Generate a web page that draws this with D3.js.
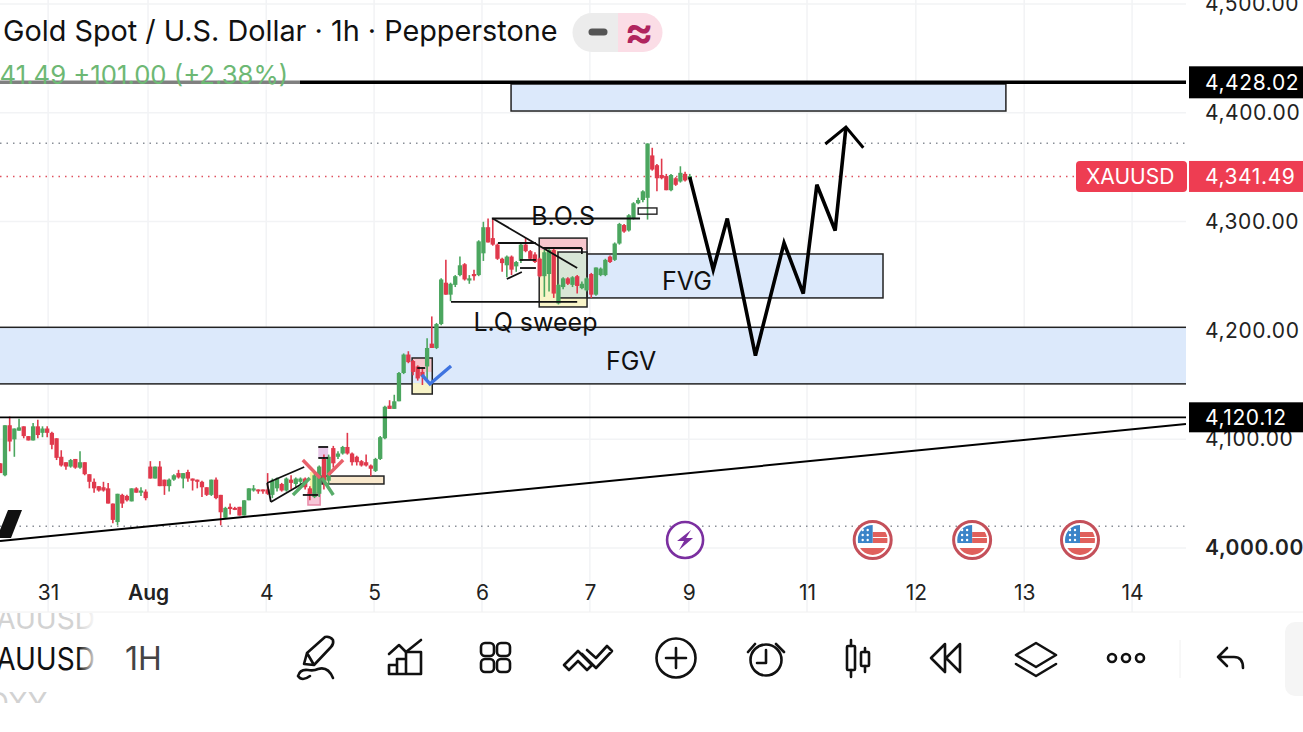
<!DOCTYPE html>
<html>
<head>
<meta charset="utf-8">
<script src="https://cdn.jsdelivr.net/npm/d3@7"></script>
<style>
  html, body { margin: 0; background: #fff; overflow: hidden; }
  text { font-family: Inter, "Liberation Sans", sans-serif; }
</style>
</head>
<body>
<div id="graph"></div>
<script>
/* globals d3 */
// hourly candles: open, high, low, close
const candles = [
  [4076,4076,4067,4067],[4065,4111,4064,4111],[4111,4119,4087,4096],[4098,4108,4082,4108],
  [4106,4117,4106,4109],[4110,4110,4099,4101],[4101,4101,4097,4097],[4097,4113,4097,4110],
  [4110,4116,4099,4102],[4104,4110,4100,4108],[4108,4110,4100,4104],[4104,4105,4089,4093],
  [4099,4099,4079,4081],[4082,4088,4073,4074],[4077,4077,4070,4073],[4073,4080,4072,4079],
  [4080,4080,4071,4072],[4072,4087,4071,4077],[4077,4077,4065,4066],[4066,4066,4053,4059],
  [4059,4062,4049,4053],[4055,4055,4050,4051],[4054,4059,4050,4051],[4053,4058,4039,4039],
  [4039,4039,4021,4024],[4022,4048,4019,4048],[4047,4048,4035,4039],[4046,4047,4041,4042],
  [4041,4053,4041,4053],[4053,4054,4049,4049],[4049,4054,4046,4051],[4050,4052,4042,4044],
  [4073,4078,4062,4062],[4062,4073,4062,4073],[4073,4078,4055,4055],[4061,4061,4047,4055],
  [4055,4062,4050,4061],[4061,4066,4060,4065],[4067,4070,4062,4063],[4062,4067,4053,4067],
  [4068,4070,4059,4062],[4062,4062,4051,4060],[4061,4061,4053,4059],[4059,4060,4045,4054],
  [4054,4054,4046,4047],[4047,4061,4046,4061],[4061,4063,4043,4044],[4047,4047,4019,4031],
  [4026,4036,4025,4035],[4036,4039,4029,4034],[4035,4036,4033,4034],[4036,4036,4028,4028],
  [4028,4042,4028,4042],[4042,4053,4042,4053],[4051,4056,4050,4053],[4052,4052,4048,4051],
  [4052,4052,4048,4051],[4052,4067,4047,4048],[4047,4062,4044,4060],[4053,4063,4050,4062],
  [4057,4058,4050,4051],[4051,4063,4050,4062],[4061,4065,4052,4058],[4057,4063,4053,4062],
  [4059,4063,4056,4062],[4062,4063,4052,4054],[4053,4055,4042,4048],[4045,4067,4044,4065],
  [4048,4074,4045,4073],[4080,4084,4052,4060],[4060,4084,4056,4082],[4090,4092,4072,4076],
  [4082,4087,4080,4085],[4085,4092,4084,4091],[4091,4104,4084,4085],[4085,4086,4074,4077],
  [4082,4083,4074,4077],[4078,4079,4073,4074],[4077,4084,4073,4074],[4074,4075,4064,4071],
  [4069,4081,4068,4080],[4080,4101,4079,4100],[4099,4129,4098,4128],[4129,4134,4126,4126],
  [4126,4139,4126,4133],[4133,4160,4133,4159],[4159,4177,4158,4176],[4176,4179,4168,4169],
  [4170,4171,4157,4160],[4165,4166,4152,4154],[4160,4164,4148,4156],[4165,4191,4152,4182],
  [4186,4211,4182,4182],[4182,4205,4181,4204],[4204,4246,4203,4245],[4242,4263,4231,4231],
  [4231,4242,4225,4241],[4240,4249,4238,4248],[4249,4266,4248,4258],[4259,4260,4244,4245],
  [4244,4249,4241,4246],[4250,4254,4244,4248],[4249,4281,4248,4280],[4269,4298,4262,4293],
  [4293,4301,4279,4279],[4283,4301,4276,4277],[4277,4278,4263,4264],[4264,4265,4252,4260],
  [4258,4267,4247,4266],[4266,4267,4249,4254],[4257,4262,4252,4261],[4262,4278,4260,4277],
  [4277,4283,4270,4271],[4271,4272,4263,4264],[4268,4270,4260,4261],[4264,4265,4247,4248],
  [4248,4272,4229,4270],[4250,4274,4234,4272],[4272,4274,4228,4232],[4223,4241,4222,4240],
  [4238,4247,4236,4246],[4246,4247,4240,4241],[4240,4248,4238,4247],[4248,4249,4232,4239],
  [4237,4243,4236,4241],[4235,4247,4234,4246],[4250,4251,4228,4231],[4231,4256,4230,4256],
  [4249,4256,4248,4255],[4249,4264,4248,4263],[4266,4267,4260,4261],[4263,4279,4262,4278],
  [4278,4297,4277,4296],[4295,4296,4288,4289],[4290,4305,4289,4304],[4301,4316,4300,4315],
  [4315,4320,4314,4318],[4318,4327,4316,4326],[4320,4370,4300,4370],[4359,4366,4345,4346],
  [4350,4351,4326,4338],[4341,4356,4337,4338],[4340,4342,4327,4327],[4327,4342,4326,4341],
  [4338,4339,4331,4332],[4335,4349,4334,4343],[4342,4344,4335,4336],[4337,4342,4336,4340]
];

const priceTicks = [4000, 4100, 4200, 4300, 4400, 4500];
const dayTicks = [10.2, 31.5, 56.7, 79.7, 102.7, 125.7, 146.8, 172, 195.2, 218.3, 241.3];
const dayLabels = ['31', 'Aug', '4', '5', '6', '7', '9', '11', '12', '13', '14'];

const topLevel = 4428.02;
const lowLevel = 4120.12;
const lastPrice = 4341.49;
const swingHigh = 4372;
const swingLow = 4020;

// candles and drawings were read against the label centres, the grid sits this much lower
const readShift = 1.84;

// drawing tools: candle index and price
const trendLine = [[-0.06, 4004.6], [252.8, 4112.1]];
const forecast = [[147, 4339], [152, 4254], [155, 4301], [161, 4175], [167.1, 4278.5],
  [171.2, 4232], [174.1, 4332], [178, 4290], [180.3, 4385]];
const forecastHead = [[175.9, 4369.5], [180.3, 4385], [184, 4366]];
const blueArrow = [[89.9, 4157.2], [91.6, 4148.9], [96.1, 4165.4]];

// i0, i1, p0, p1, fill, stroke
const zonesBelow = [
  [-5, 260, 4201, 4149, '#dce9fb', '#222'],
  [108.9, 214.4, 4424.6, 4399.8, '#dce9fb', '#222'],
  [118.7, 188.2, 4268.4, 4228, '#dce9fb', '#222'],
  [114.9, 125.1, 4283, 4272, '#f7c6cd', 'none'],
  [114.9, 118.9, 4272, 4219.7, '#f8f4c8', 'none'],
  [118.9, 125.1, 4228, 4219.7, '#f8f4c8', 'none'],
  [118.9, 125.1, 4270.2, 4228, '#d8e6d6', '#222'],
  [114.9, 125.1, 4283, 4219.7, 'none', '#222'],
  [87.8, 92.1, 4172.8, 4160, '#f7c6cd', 'none'],
  [87.8, 92.1, 4149.8, 4139.7, '#f8f4c8', 'none'],
  [87.8, 92.1, 4172.8, 4139.7, 'none', '#222'],
  [66, 68.2, 4068, 4048.7, '#f8f4a8', 'none'],
  [65.6, 68.2, 4048.7, 4037.7, '#f7c6d8', '#e88aa8'],
  [67.8, 69.9, 4091, 4080.9, '#e8c8e8', 'none'],
  [68.6, 81.8, 4064.3, 4057, '#f9e8cc', '#222']
];
const smallBox = [136, 140, 4310.7, 4305];

// i0, p0, i1, p1
const thinLines = [
  [104.8, 4301, 136.4, 4301], [105, 4301, 123, 4255.5], [106.1, 4278.5, 114.2, 4278.5],
  [110.8, 4262.9, 114.2, 4262.9], [110.8, 4255.5, 114.2, 4255.5], [108, 4245.4, 111.2, 4251.8],
  [96.1, 4224.3, 123, 4224.3], [115.7, 4273.9, 124, 4273.9], [124, 4273.9, 124, 4268.4],
  [56.9, 4057.9, 64.8, 4072.6], [57.7, 4040.4, 65, 4058.8], [56.9, 4057.9, 57.7, 4040.4],
  [64.5, 4046.9, 67.8, 4046.9], [67.8, 4091, 69.9, 4091], [67.8, 4080.9, 69.9, 4080.9],
  [88.9, 4163.6, 90.6, 4163.6]
];
const redCross = [[64.5, 4079, 68.2, 4062.5], [69.9, 4065.3, 73.1, 4079]];
const greenCross = [[62.4, 4046.9, 66, 4062.5], [68.6, 4062.5, 71, 4046.9]];

const notes = [
  ['B.O.S', 120, 4295],
  ['L.Q sweep', 114.1, 4198],
  ['FVG', 146.4, 4235],
  ['FGV', 134.5, 4162]
];
const lightningAt = 146;
const flagsAt = [186, 207.2, 230.2];
const eventPrice = 4005.5;

const width = 1303, height = 732, plotRight = 1186, plotBottom = 612;
const green = '#4ba65f', red = '#e0394c';

const x = d3.scaleLinear().domain([-0.06, 252.8]).range([0, plotRight]);
const y = d3.scaleLinear().domain([4000, 4500]).range([548, 4]);
const yr = v => y(v + readShift);

const svg = d3.select('#graph').append('svg')
  .attr('width', width).attr('height', height)
  .style('display', 'block');

const defs = svg.append('defs');
defs.append('clipPath').attr('id', 'plot').append('rect')
  .attr('width', plotRight).attr('height', plotBottom);
const fade = defs.append('linearGradient').attr('id', 'fade');
fade.append('stop').attr('offset', '0').attr('stop-color', '#fff').attr('stop-opacity', 0);
fade.append('stop').attr('offset', '1').attr('stop-color', '#fff').attr('stop-opacity', 1);

const plot = svg.append('g').attr('clip-path', 'url(#plot)');

// Grid
plot.selectAll('.gx').data(dayTicks).enter().append('line')
  .attr('x1', d => x(d)).attr('x2', d => x(d))
  .attr('y1', 0).attr('y2', plotBottom)
  .attr('stroke', '#f2f3f5').attr('stroke-width', 1.5);
plot.selectAll('.gy').data(priceTicks).enter().append('line')
  .attr('x1', 0).attr('x2', plotRight)
  .attr('y1', d => y(d)).attr('y2', d => y(d))
  .attr('stroke', '#f2f3f5').attr('stroke-width', 1.5);

// Zones go under the candles
plot.selectAll('.zone').data(zonesBelow).enter().append('rect')
  .attr('x', d => x(d[0])).attr('width', d => x(d[1]) - x(d[0]))
  .attr('y', d => yr(d[2])).attr('height', d => yr(d[3]) - yr(d[2]))
  .attr('fill', d => d[4]).attr('stroke', d => d[5]).attr('stroke-width', 1.5);

// Dotted levels
[[swingHigh, '#8a8f98'], [swingLow, '#8a8f98'], [lastPrice, '#e0525f']].forEach(([p, c]) => {
  plot.append('line')
    .attr('x1', 0).attr('x2', plotRight).attr('y1', y(p)).attr('y2', y(p))
    .attr('stroke', c).attr('stroke-width', 1.4).attr('stroke-dasharray', '1.5 5');
});

// Candles
const candle = plot.selectAll('.candle').data(candles).enter().append('g')
  .attr('fill', d => d[3] < d[0] ? red : green)
  .attr('stroke', d => d[3] < d[0] ? red : green);
candle.append('line')
  .attr('x1', (d, i) => x(i)).attr('x2', (d, i) => x(i))
  .attr('y1', d => yr(d[1])).attr('y2', d => yr(d[2]))
  .attr('stroke-width', 1.6);
candle.append('rect')
  .attr('x', (d, i) => x(i) - 2.15).attr('width', 4.3)
  .attr('y', d => yr(Math.max(d[0], d[3])))
  .attr('height', d => Math.max(2, Math.abs(yr(d[0]) - yr(d[3]))))
  .attr('stroke', 'none');

// Horizontal levels and trend line
plot.append('line').attr('x1', 0).attr('x2', plotRight)
  .attr('y1', y(topLevel)).attr('y2', y(topLevel))
  .attr('stroke', '#000').attr('stroke-width', 3.4);
plot.append('line').attr('x1', 0).attr('x2', plotRight)
  .attr('y1', y(lowLevel)).attr('y2', y(lowLevel))
  .attr('stroke', '#000').attr('stroke-width', 1.8);
plot.append('line')
  .attr('x1', x(trendLine[0][0])).attr('y1', yr(trendLine[0][1]))
  .attr('x2', x(trendLine[1][0])).attr('y2', yr(trendLine[1][1]))
  .attr('stroke', '#000').attr('stroke-width', 2);

const segs = (data, colour, w) => plot.selectAll(null).data(data).enter().append('line')
  .attr('x1', d => x(d[0])).attr('y1', d => yr(d[1]))
  .attr('x2', d => x(d[2])).attr('y2', d => yr(d[3]))
  .attr('stroke', colour).attr('stroke-width', w);
segs(thinLines, '#111', 1.8);
segs(redCross, '#e8606a', 3.4);
segs(greenCross, '#58ad6a', 3.4);

plot.append('rect')
  .attr('x', x(smallBox[0])).attr('width', x(smallBox[1]) - x(smallBox[0]))
  .attr('y', yr(smallBox[2])).attr('height', yr(smallBox[3]) - yr(smallBox[2]))
  .attr('fill', 'none').attr('stroke', '#222').attr('stroke-width', 1.4);

const pathLine = d3.line().x(d => x(d[0])).y(d => yr(d[1]));
plot.append('path').attr('d', pathLine(forecast))
  .attr('fill', 'none').attr('stroke', '#000').attr('stroke-width', 3.6);
plot.append('path').attr('d', pathLine(forecastHead))
  .attr('fill', 'none').attr('stroke', '#000').attr('stroke-width', 3);
plot.append('path').attr('d', pathLine(blueArrow))
  .attr('fill', 'none').attr('stroke', '#3f74e0').attr('stroke-width', 3.4);

plot.selectAll('.note').data(notes).enter().append('text')
  .attr('x', d => x(d[1])).attr('y', d => yr(d[2]))
  .attr('text-anchor', 'middle')
  .attr('font-size', 25).attr('fill', '#111')
  .text(d => d[0]);

// Watermark corner
plot.append('path').attr('d', 'M8,510 L22,510 L11,538 L0,538 L0,530 Z').attr('fill', '#111');

// Event markers
plot.append('circle')
  .attr('cx', x(lightningAt)).attr('cy', yr(eventPrice)).attr('r', 18)
  .attr('fill', '#fff').attr('stroke', '#7b2fa0').attr('stroke-width', 2.6);
plot.append('path')
  .attr('transform', `translate(${x(lightningAt)},${yr(eventPrice)})`)
  .attr('d', 'M6,-10 L-8,1 L-1,1 L-6,10 L8,-2 L1,-2 Z').attr('fill', '#7b2fa0');

flagsAt.forEach((f, n) => {
  const g = plot.append('g').attr('transform', `translate(${x(f)},${yr(eventPrice)})`);
  defs.append('clipPath').attr('id', `flag${n}`).append('circle').attr('r', 15);
  g.append('circle').attr('r', 18.5).attr('fill', '#fff')
    .attr('stroke', '#c4505a').attr('stroke-width', 3);
  const inner = g.append('g').attr('clip-path', `url(#flag${n})`);
  inner.append('rect').attr('x', -15).attr('y', -15).attr('width', 30).attr('height', 30).attr('fill', '#fff');
  inner.append('rect').attr('x', 0).attr('y', -8).attr('width', 15).attr('height', 5).attr('fill', '#e0605c');
  inner.append('rect').attr('x', 0).attr('y', -2).attr('width', 15).attr('height', 5).attr('fill', '#e0605c');
  inner.append('rect').attr('x', -15).attr('y', 8).attr('width', 30).attr('height', 7).attr('fill', '#e0605c');
  inner.append('rect').attr('x', -15).attr('y', -15).attr('width', 15).attr('height', 18).attr('fill', '#3b84c8');
  [-10, -5].forEach(sx => [-10, -5, 0].forEach(sy => {
    inner.append('circle').attr('cx', sx).attr('cy', sy).attr('r', 1.2).attr('fill', '#fff');
  }));
});

// Axes
const yAxis = svg.append('g').attr('transform', `translate(${plotRight},0)`)
  .call(d3.axisRight(y).tickValues(priceTicks).tickSize(0).tickPadding(19)
    .tickFormat(d => d3.format(',.2f')(d)));
yAxis.select('.domain').remove();
yAxis.selectAll('text')
  .attr('font-size', 21).attr('fill', '#222').attr('letter-spacing', 0.6)
  .style('font-family', 'Inter')
  .attr('font-weight', d => d === 4000 ? 600 : 400);

const xAxis = svg.append('g').attr('transform', 'translate(0,581)')
  .call(d3.axisBottom(x).tickValues(dayTicks).tickSize(0).tickPadding(4)
    .tickFormat((d, i) => dayLabels[i]));
xAxis.select('.domain').remove();
xAxis.selectAll('text')
  .attr('font-size', 21).attr('fill', '#222')
  .style('font-family', 'Inter')
  .attr('font-weight', (d, i) => dayLabels[i] === 'Aug' ? 600 : 400);

// Price tags
const tag = (p, h, fill) => {
  svg.append('rect').attr('x', 1189).attr('y', y(p) - h / 2)
    .attr('width', 114).attr('height', h).attr('fill', fill);
  svg.append('text').attr('x', 1205).attr('y', y(p) + 8)
    .attr('font-size', 21).attr('letter-spacing', 0.6).attr('fill', '#fff')
    .text(d3.format(',.2f')(p));
};
tag(topLevel, 32, '#000');
tag(lowLevel, 30, '#000');
tag(lastPrice, 31, '#ee3d52');
svg.append('rect').attr('x', 1076).attr('y', y(lastPrice) - 15.5)
  .attr('width', 111).attr('height', 31).attr('rx', 4).attr('fill', '#ee3d52');
svg.append('text').attr('x', 1086).attr('y', y(lastPrice) + 8)
  .attr('font-size', 21).attr('fill', '#fff').text('XAUUSD');

// Legend header
svg.append('rect').attr('x', 0).attr('y', 62).attr('width', 300).attr('height', 28)
  .attr('fill', '#fff').attr('opacity', 0.5);
svg.append('text').attr('x', 3).attr('y', 41)
  .attr('font-size', 28.8).attr('fill', '#111')
  .text('Gold Spot / U.S. Dollar · 1h · Pepperstone');
svg.append('text').attr('x', 288).attr('y', 84).attr('text-anchor', 'end')
  .attr('font-size', 25.7).attr('fill', '#6db874')
  .text('4,341.49 +101.00 (+2.38%)');
svg.append('path').attr('d', 'M618,13 H592 a19.5,19.5 0 0 0 0,39 H618 Z').attr('fill', '#ececec');
svg.append('path').attr('d', 'M618,13 H643 a19.5,19.5 0 0 1 0,39 H618 Z').attr('fill', '#fbdde6');
svg.append('line').attr('x1', 592).attr('x2', 604).attr('y1', 32).attr('y2', 32)
  .attr('stroke', '#555').attr('stroke-width', 7).attr('stroke-linecap', 'round');
svg.append('text').attr('x', 639).attr('y', 47).attr('text-anchor', 'middle')
  .attr('font-size', 44).attr('font-weight', 600).attr('fill', '#b0245e').text('≈');

// Toolbar
svg.append('line').attr('x1', 0).attr('x2', width).attr('y1', 612).attr('y2', 612)
  .attr('stroke', '#f0f0f0');
const bar = svg.append('g');
defs.append('clipPath').attr('id', 'rows').append('rect')
  .attr('y', 613).attr('width', 100).attr('height', 90);
const rows = bar.append('g').attr('clip-path', 'url(#rows)');
rows.append('text').attr('x', -23).attr('y', 629).attr('font-size', 29).attr('fill', '#d2d2d2')
  .attr('textLength', 118).attr('lengthAdjust', 'spacingAndGlyphs').text('XAUUSD');
rows.append('text').attr('x', -23).attr('y', 670).attr('font-size', 31).attr('fill', '#111')
  .attr('textLength', 118).attr('lengthAdjust', 'spacingAndGlyphs').text('XAUUSD');
rows.append('text').attr('x', -12).attr('y', 713).attr('font-size', 29).attr('fill', '#d2d2d2').text('DXY');
bar.append('rect').attr('x', 78).attr('y', 613).attr('width', 20).attr('height', 90).attr('fill', 'url(#fade)');
bar.append('rect').attr('x', 98).attr('y', 613).attr('width', 20).attr('height', 90).attr('fill', '#fff');
bar.append('text').attr('x', 125).attr('y', 670).attr('font-size', 32).attr('fill', '#444').text('1H');
bar.append('line').attr('x1', 1180).attr('x2', 1180).attr('y1', 640).attr('y2', 678).attr('stroke', '#f0f0f0');
bar.append('rect').attr('x', 1285).attr('y', 622).attr('width', 40).attr('height', 74).attr('rx', 10).attr('fill', '#f5f5f5');

const icons = bar.append('g').attr('fill', 'none').attr('stroke', '#111')
  .attr('stroke-width', 2.6).attr('stroke-linejoin', 'round').attr('stroke-linecap', 'round');
[
  'M304,664 L307,653 L325,637 Q330,636 333,640 Q334,644 331,647 L314,665 Z M307,653 L314,665',
  'M298,676 Q300,669 308,670 Q314,671 318,669 Q328,666 333,678 M298,676 Q302,682 310,676',
  'M389,654 L399,645 L406,652 L421,640',
  'M389,674 V665 H397 V674 Z M397,674 V659 H406 V674 Z M406,674 V652 H421 V674 Z M389,674 H421',
  'M564,665 L578,651 L592,665 L587,670 L578,661 L569,670 Z M587,650 L596,658 L607,646 L612,651 L596,668 L582,654',
  'M666,658 H686 M676,648 V668',
  'M748,652 L755,644 M776,644 L784,652 M766,650 V663 H757',
  'M851,640 V646 M851,670 V677 M865,648 V652 M865,666 V672',
  'M945,644 L931,658 L945,672 Z M960,644 L946,658 L960,672 Z',
  'M1036,643 L1056,655 L1036,667 L1016,655 Z M1016,664 L1036,676 L1056,664',
  'M1218,657 L1227,648 M1218,657 L1227,666 M1218,657 H1234 Q1243,657 1243,668'
].forEach(d => icons.append('path').attr('d', d));
[[481, 643], [497, 643], [481, 659], [497, 659]].forEach(([a, b]) => {
  icons.append('rect').attr('x', a).attr('y', b).attr('width', 13).attr('height', 13).attr('rx', 4);
});
icons.append('circle').attr('cx', 676).attr('cy', 658).attr('r', 19.5);
icons.append('circle').attr('cx', 766).attr('cy', 660).attr('r', 15.5);
icons.append('rect').attr('x', 847).attr('y', 646).attr('width', 8).attr('height', 24).attr('rx', 1);
icons.append('rect').attr('x', 861).attr('y', 652).attr('width', 8).attr('height', 14).attr('rx', 1);
[1112, 1126, 1140].forEach(c => icons.append('circle').attr('cx', c).attr('cy', 658).attr('r', 4));
</script>
</body>
</html>
